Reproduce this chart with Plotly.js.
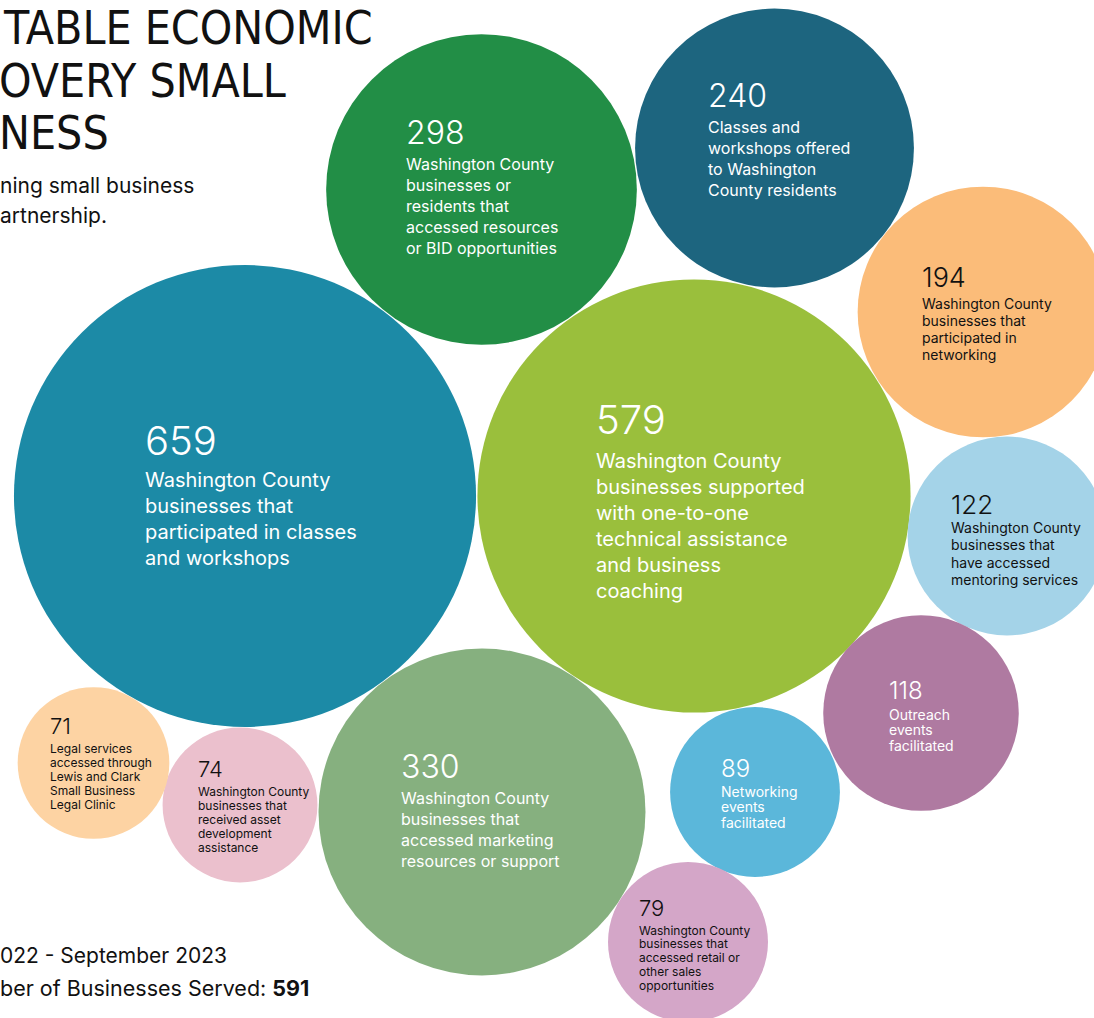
<!DOCTYPE html>
<html>
<head>
<meta charset="utf-8">
<script src="https://cdn.plot.ly/plotly-3.0.1.min.js"></script>
<style>html,body{margin:0;padding:0;background:#fff;}#chart{width:1094px;height:1018px;}</style>
</head>
<body>
<div id="chart"></div>
<script>
// ---- data ----
const values = [659, 579, 330, 298, 240, 194, 122, 118, 89, 79, 74, 71];
const descriptions = [
  "Washington County<br>businesses that<br>participated in classes<br>and workshops",
  "Washington County<br>businesses supported<br>with one-to-one<br>technical assistance<br>and business<br>coaching",
  "Washington County<br>businesses that<br>accessed marketing<br>resources or support",
  "Washington County<br>businesses or<br>residents that<br>accessed resources<br>or BID opportunities",
  "Classes and<br>workshops offered<br>to Washington<br>County residents",
  "Washington County<br>businesses that<br>participated in<br>networking",
  "Washington County<br>businesses that<br>have accessed<br>mentoring services",
  "Outreach<br>events<br>facilitated",
  "Networking<br>events<br>facilitated",
  "Washington County<br>businesses that<br>accessed retail or<br>other sales<br>opportunities",
  "Washington County<br>businesses that<br>received asset<br>development<br>assistance",
  "Legal services<br>accessed through<br>Lewis and Clark<br>Small Business<br>Legal Clinic"
];
const titleLines = ["TABLE ECONOMIC", "OVERY SMALL", "NESS"];
const subtitleLines = ["ning small business", "artnership."];
const periodText = "022 - September 2023";
const servedLabel = "ber of Businesses Served: ";
const servedValue = 591;

// ---- styles / layout ----
const colors = ["#1c8aa6", "#9abf3c", "#86b07f", "#228e46", "#1d657f", "#fbbc79",
                "#a4d3e8", "#af7aa1", "#5bb7da", "#d4a6c8", "#ebc0cd", "#fdd3a3"];
const textColors = ["#fff", "#fff", "#fff", "#fff", "#fff", "#111", "#111", "#fff", "#fff", "#111", "#111", "#111"];
const cx = [245, 694, 482, 481.5, 774.5, 983, 1007, 921, 755, 688, 240, 93.5];
const cy = [496, 496, 812, 189.5, 148, 312, 536, 713, 792, 942, 805, 763];
const labelX = [144, 595, 400, 405, 707, 921, 950, 888, 720, 638, 197, 49];
const numY = [440, 419, 766, 132, 95, 277, 504, 690, 768, 908, 769, 726];
const descY0 = [480, 461, 798, 164, 127, 303, 527, 714, 791, 930, 791, 748];
const lineGap = [26, 26, 21, 21, 21, 17, 17.5, 15.5, 15.5, 13.8, 14, 14.2];
const numSize = [40, 40, 32, 32, 32, 27, 26, 24, 24, 22, 22, 22];
const descSize = [20, 20, 16, 16, 16, 14, 14, 14, 14, 12, 12, 12];
const bodyFont = "Inter, 'Liberation Sans', Arial, sans-serif";
const titleFont = "'DejaVu Sans Condensed', 'Liberation Sans Narrow', 'DejaVu Sans', sans-serif";

const trace = {
  type: "scatter",
  mode: "markers",
  x: cx,
  y: cy,
  marker: {
    size: values,
    sizemode: "area",
    sizeref: 2 / 324,
    color: colors,
    opacity: 1,
    line: {width: 0}
  },
  hoverinfo: "skip",
  cliponaxis: true
};

const annotations = [];
values.forEach((v, i) => {
  annotations.push({
    x: labelX[i], y: numY[i], xref: "x", yref: "y",
    xanchor: "left", yanchor: "middle", showarrow: false,
    text: String(v), borderpad: 0,
    font: {family: bodyFont, size: numSize[i], color: textColors[i], weight: 300}
  });
  descriptions[i].split("<br>").forEach((line, j) => {
    annotations.push({
      x: labelX[i], y: descY0[i] + j * lineGap[i], xref: "x", yref: "y",
      xanchor: "left", yanchor: "middle", showarrow: false,
      text: line, borderpad: 0,
      font: {family: bodyFont, size: descSize[i], color: textColors[i]}
    });
  });
});

const titleY = [28, 81, 133];
const titleX = [2, 0, 0];
titleLines.forEach((t, i) => {
  annotations.push({
    x: titleX[i], y: titleY[i], xref: "x", yref: "y",
    xanchor: "left", yanchor: "middle", showarrow: false, text: t, borderpad: 0,
    xshift: i === 0 ? 0 : -2,
    font: {family: titleFont, size: 46, color: "#111"}
  });
});
const subY = [185, 215];
subtitleLines.forEach((t, i) => {
  annotations.push({
    x: 0, y: subY[i], xref: "x", yref: "y", xshift: -1,
    xanchor: "left", yanchor: "middle", showarrow: false, text: t, borderpad: 0,
    font: {family: bodyFont, size: 21, color: "#111"}
  });
});
annotations.push({
  x: 0, y: 955, xref: "x", yref: "y", xanchor: "left", yanchor: "middle", xshift: -1,
  showarrow: false, text: periodText, borderpad: 0,
  font: {family: bodyFont, size: 21, color: "#111"}
});
annotations.push({
  x: 0, y: 988, xref: "x", yref: "y", xanchor: "left", yanchor: "middle", xshift: -1,
  showarrow: false, text: servedLabel + "<b>" + servedValue + "</b>", borderpad: 0,
  font: {family: bodyFont, size: 21.5, color: "#111"}
});

const layout = {
  width: 1094, height: 1018,
  margin: {l: 0, r: 0, t: 0, b: 0, pad: 0},
  paper_bgcolor: "#fff", plot_bgcolor: "#fff",
  showlegend: false,
  xaxis: {range: [0, 1094], visible: false, fixedrange: true},
  yaxis: {range: [1018, 0], visible: false, fixedrange: true},
  annotations: annotations
};

Plotly.newPlot("chart", [trace], layout, {staticPlot: true, displayModeBar: false});
</script>
</body>
</html>
